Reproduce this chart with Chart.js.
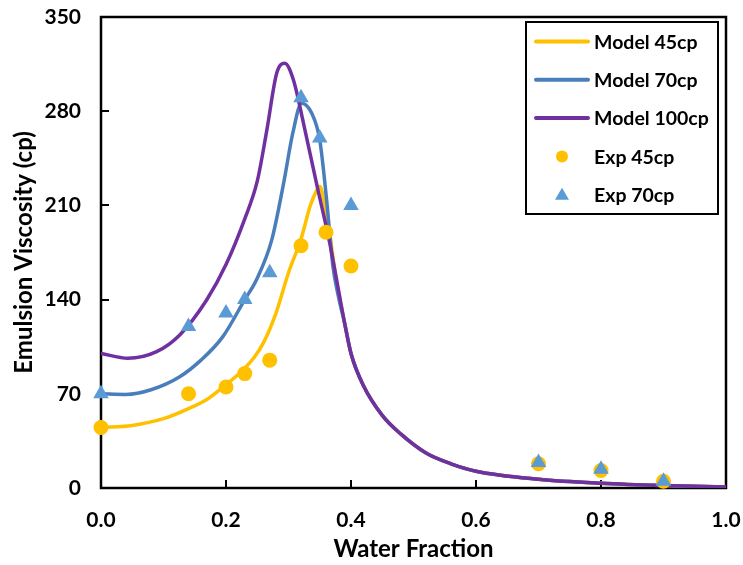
<!DOCTYPE html>
<html>
<head>
<meta charset="utf-8">
<script src="https://cdn.jsdelivr.net/npm/chart.js@4.4.0/dist/chart.umd.min.js"></script>
<style>
  html, body { margin: 0; padding: 0; background: #fff; }
  #wrap { width: 743px; height: 565px; }
</style>
</head>
<body>
<div id="wrap"><canvas id="viscosity-chart" width="743" height="565"></canvas></div>
<script>
// model curves (water fraction vs viscosity)
const model45X = [0, 0.05, 0.1, 0.14, 0.17, 0.195, 0.222, 0.245, 0.26, 0.28, 0.3, 0.32, 0.335, 0.345, 0.35, 0.356, 0.366, 0.377, 0.388, 0.4, 0.42, 0.45, 0.48, 0.52, 0.56, 0.6, 0.7, 0.8, 0.9, 1.0];
const model45Y = [45, 46.5, 51.5, 59, 66, 75, 85.5, 97, 108, 130, 160, 185, 210, 221, 224, 215, 189, 152, 127, 100, 76, 54, 40, 26, 18, 12.5, 6.5, 3.5, 1.8, 0.8];

const model70X = [0, 0.04, 0.08, 0.126, 0.16, 0.195, 0.23, 0.249, 0.273, 0.292, 0.307, 0.321, 0.337, 0.35, 0.361, 0.371, 0.38, 0.39, 0.4, 0.42, 0.45, 0.48, 0.52, 0.56, 0.6, 0.7, 0.8, 0.9, 1.0];
const model70Y = [70, 69.5, 73, 82.7, 95, 112.5, 140, 155, 184, 226, 264, 286, 278.6, 258.6, 214, 165, 142, 122, 100, 76, 54, 40, 26, 18, 12.5, 6.5, 3.5, 1.8, 0.8];

const model100X = [0, 0.043, 0.089, 0.126, 0.169, 0.2, 0.23, 0.25, 0.265, 0.281, 0.294, 0.308, 0.324, 0.345, 0.366, 0.382, 0.39, 0.4, 0.42, 0.45, 0.48, 0.52, 0.56, 0.6, 0.7, 0.8, 0.9, 1.0];
const model100Y = [100, 96.4, 101.3, 113.7, 139.7, 166, 200, 228, 265, 308, 315.6, 303, 271, 226, 182, 142, 122, 100, 76, 54, 40, 26, 18, 12.5, 6.5, 3.5, 1.8, 0.8];

// measured points
const exp45X = [0, 0.14, 0.2, 0.23, 0.27, 0.32, 0.36, 0.4, 0.7, 0.8, 0.9];
const exp45Y = [45, 70, 75, 85, 95, 180, 190, 165, 18, 13, 5];
const exp70X = [0, 0.14, 0.2, 0.23, 0.27, 0.32, 0.35, 0.4, 0.7, 0.8, 0.9];
const exp70Y = [70, 120, 130, 140, 160, 290, 260, 210, 19, 14, 5];

// axis ticks
const xTicks = [0, 0.2, 0.4, 0.6, 0.8, 1.0];
const yTicks = [0, 70, 140, 210, 280, 350];

const FONT = "Lato, 'Liberation Sans', sans-serif";

function pairs(xs, ys) {
    return xs.map((x, i) => ({ x: x, y: ys[i] }));
}

// box around plot area + inward tick marks
const framePlugin = {
    id: "frame",
    beforeDatasetsDraw(chart) {
        const { ctx, chartArea: a, scales } = chart;
        ctx.save();
        ctx.strokeStyle = "#000";
        ctx.lineWidth = 2.5;
        ctx.strokeRect(a.left, a.top, a.right - a.left, a.bottom - a.top);
        ctx.lineWidth = 2;
        ctx.beginPath();
        xTicks.forEach(v => {
            const px = Math.round(scales.x.getPixelForValue(v));
            ctx.moveTo(px, a.bottom);
            ctx.lineTo(px, a.bottom - 8);
        });
        yTicks.forEach(v => {
            const py = Math.round(scales.y.getPixelForValue(v));
            ctx.moveTo(a.left, py);
            ctx.lineTo(a.left + 8, py);
        });
        ctx.stroke();
        ctx.restore();
    }
};

// boxed legend in the top right corner
const boxLegend = {
    id: "boxLegend",
    afterDraw(chart) {
        const ctx = chart.ctx;
        const bx = 526, by = 22, bw = 192, bh = 192;
        ctx.save();
        ctx.fillStyle = "#fff";
        ctx.fillRect(bx, by, bw, bh);
        ctx.strokeStyle = "#000";
        ctx.lineWidth = 2;
        ctx.strokeRect(bx, by, bw, bh);
        ctx.font = "bold 19.5px " + FONT;
        ctx.textBaseline = "middle";
        const dsOrder = [2, 3, 4, 0, 1];
        dsOrder.forEach((idx, r) => {
            const ds = chart.data.datasets[idx];
            const y = 41.5 + r * 38.3;
            if (ds.showLine) {
                ctx.strokeStyle = ds.borderColor;
                ctx.lineWidth = 4;
                ctx.lineCap = "round";
                ctx.beginPath();
                ctx.moveTo(536, y);
                ctx.lineTo(588, y);
                ctx.stroke();
            } else {
                ctx.fillStyle = ds.backgroundColor;
                ctx.beginPath();
                if (ds.pointStyle === "triangle") {
                    ctx.moveTo(562, y - 7);
                    ctx.lineTo(569, y + 5);
                    ctx.lineTo(555, y + 5);
                    ctx.closePath();
                } else {
                    ctx.arc(562, y, 6, 0, Math.PI * 2);
                }
                ctx.fill();
            }
            ctx.fillStyle = "#000";
            ctx.fillText(ds.label, 594, y + 1);
        });
        ctx.restore();
    }
};

function draw() {
    const ctx = document.getElementById("viscosity-chart");
    new Chart(ctx, {
        type: "scatter",
        data: {
            datasets: [
                {
                    label: "Exp 45cp",
                    data: pairs(exp45X, exp45Y),
                    pointStyle: "circle",
                    pointRadius: 7.5,
                    backgroundColor: "#FFC000",
                    borderColor: "#FFC000",
                    borderWidth: 0,
                    showLine: false,
                    clip: false,
                    order: 1
                },
                {
                    label: "Exp 70cp",
                    data: pairs(exp70X, exp70Y),
                    pointStyle: "triangle",
                    pointRadius: 9,
                    backgroundColor: "#5B9BD5",
                    borderColor: "#5B9BD5",
                    borderWidth: 0,
                    showLine: false,
                    clip: false,
                    order: 0
                },
                {
                    label: "Model 45cp",
                    data: pairs(model45X, model45Y),
                    borderColor: "#FFC000",
                    borderWidth: 3.5,
                    pointRadius: 0,
                    showLine: true,
                    cubicInterpolationMode: "monotone",
                    order: 4
                },
                {
                    label: "Model 70cp",
                    data: pairs(model70X, model70Y),
                    borderColor: "#4A7EBB",
                    borderWidth: 3.5,
                    pointRadius: 0,
                    showLine: true,
                    cubicInterpolationMode: "monotone",
                    order: 3
                },
                {
                    label: "Model 100cp",
                    data: pairs(model100X, model100Y),
                    borderColor: "#7030A0",
                    borderWidth: 3.5,
                    pointRadius: 0,
                    showLine: true,
                    cubicInterpolationMode: "monotone",
                    order: 2
                }
            ]
        },
        options: {
            responsive: false,
            animation: false,
            layout: { padding: { top: 17, right: 17, left: 0, bottom: 0 } },
            plugins: {
                legend: { display: false },
                tooltip: { enabled: false }
            },
            scales: {
                x: {
                    type: "linear",
                    min: 0,
                    max: 1,
                    afterFit: s => {
                        s.height = 77;
                        s.paddingLeft = 0;
                        s.paddingRight = 0;
                    },
                    afterBuildTicks: s => { s.ticks = xTicks.map(v => ({ value: v })); },
                    grid: { display: false, drawTicks: false },
                    border: { display: false },
                    ticks: {
                        padding: 20,
                        color: "#000",
                        font: { family: FONT, size: 21, weight: "bold" },
                        callback: v => v.toFixed(1)
                    },
                    title: {
                        display: true,
                        text: "Water Fraction",
                        color: "#000",
                        font: { family: FONT, size: 24, weight: "bold" },
                        padding: { top: 0, bottom: 1 }
                    }
                },
                y: {
                    type: "linear",
                    min: 0,
                    max: 350,
                    afterFit: s => {
                        s.width = 101;
                        s.paddingTop = 0;
                        s.paddingBottom = 0;
                    },
                    afterBuildTicks: s => { s.ticks = yTicks.map(v => ({ value: v })); },
                    grid: { display: false, drawTicks: false },
                    border: { display: false },
                    ticks: {
                        padding: 20,
                        color: "#000",
                        font: { family: FONT, size: 21, weight: "bold" }
                    },
                    title: {
                        display: true,
                        text: "Emulsion Viscosity (cp)",
                        color: "#000",
                        font: { family: FONT, size: 24, weight: "bold" },
                        padding: { top: 10, bottom: 0 }
                    }
                }
            }
        },
        plugins: [framePlugin, boxLegend]
    });
}

document.fonts.load("bold 21px Lato").then(draw, draw);
</script>
</body>
</html>
